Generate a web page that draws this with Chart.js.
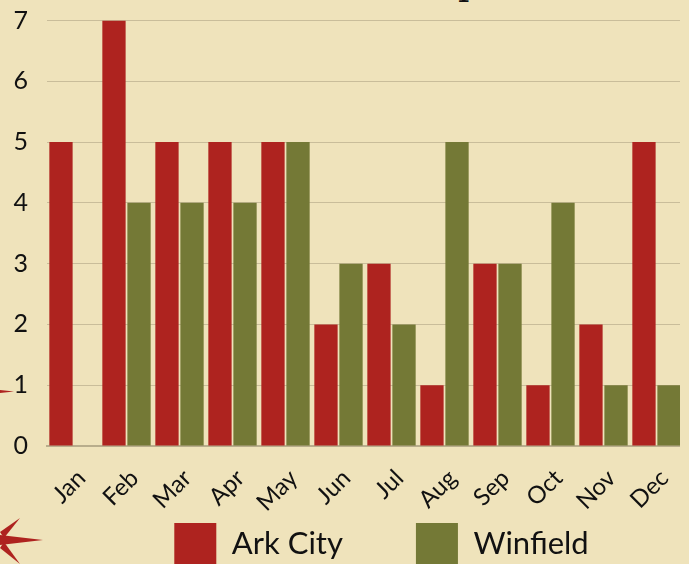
<!DOCTYPE html>
<html>
<head>
<meta charset="utf-8">
<style>
  html, body { margin: 0; padding: 0; background: #efe3bb; overflow: hidden; width: 689px; height: 564px; }
  #wrap { position: absolute; left: 0; top: 0; width: 689px; height: 575px; }
  #star { position: absolute; left: 0; top: 0; }
  #edge { position: absolute; left: 680px; top: 0; width: 9px; height: 460px; background: #efe3bb; }
  #titleBit { position: absolute; left: 458px; top: -38px; font: 36px "DejaVu Serif", serif; color: #111; }
</style>
</head>
<body>
<div id="titleBit">p</div>
<svg id="star" width="60" height="564">
  <polygon points="0,390 14,391.5 0,393" fill="#ae231f"/>
  <polygon points="0,535 43,540 0,545" fill="#ae231f"/>
  <polygon points="0,532 20,518 4,538" fill="#ae231f"/>
  <polygon points="0,548 20,564 4,542" fill="#ae231f"/>
</svg>
<div id="wrap"><canvas id="myChart"></canvas></div>
<div id="edge"></div>
<script src="https://cdn.jsdelivr.net/npm/chart.js@4"></script>
<script>
  const months = ["Jan", "Feb", "Mar", "Apr", "May", "Jun", "Jul", "Aug", "Sep", "Oct", "Nov", "Dec"];
  const arkCity = [5, 7, 5, 5, 5, 2, 3, 1, 3, 1, 2, 5];
  const winfield = [0, 4, 4, 4, 5, 3, 2, 5, 3, 4, 1, 1];

  const ink = "#111111";
  const font = "Lato, sans-serif";

  // legend sits right of the canvas centre in the original,
  // and the x scale box is squeezed so month labels need their clip area back
  const adjustLayout = {
    id: "adjustLayout",
    afterLayout(chart) {
      chart.legend.left += 40;
      chart.legend.right += 40;
      chart.scales.x.bottom += 72;
    },
  };

  const ctx = document.getElementById("myChart").getContext("2d");
  new Chart(ctx, {
    type: "bar",
    data: {
      labels: months,
      datasets: [
        { label: "Ark City", data: arkCity, backgroundColor: "#ae231f" },
        { label: "Winfield", data: winfield, backgroundColor: "#747936" },
      ],
    },
    options: {
      responsive: true,
      maintainAspectRatio: false,
      animation: false,
      categoryPercentage: 0.945,
      barPercentage: 0.93,
      layout: { padding: { top: 20.5, right: 6, bottom: 0, left: 0 } },
      plugins: {
        tooltip: { enabled: false },
        legend: {
          position: "bottom",
          labels: {
            boxWidth: 42,
            boxHeight: 42,
            padding: 73,
            color: ink,
            font: { family: font, size: 31 },
          },
        },
      },
      scales: {
        x: {
          afterFit(scale) { scale.height = 4; },
          grid: { display: false },
          border: { color: "#b8ad8c", width: 2 },
          ticks: {
            color: ink,
            font: { family: font, size: 24 },
            minRotation: 45,
            maxRotation: 45,
            autoSkip: false,
            labelOffset: 8,
            padding: 10,
          },
        },
        y: {
          min: 0,
          max: 7,
          afterFit(scale) { scale.width = 47; },
          grid: { color: "#c9bd9a", drawTicks: true, tickLength: 19, tickColor: "rgba(0,0,0,0)" },
          border: { display: false },
          ticks: {
            stepSize: 1,
            color: ink,
            font: { family: font, size: 25 },
            padding: 0,
          },
        },
      },
    },
    plugins: [adjustLayout],
  });
</script>
</body>
</html>
